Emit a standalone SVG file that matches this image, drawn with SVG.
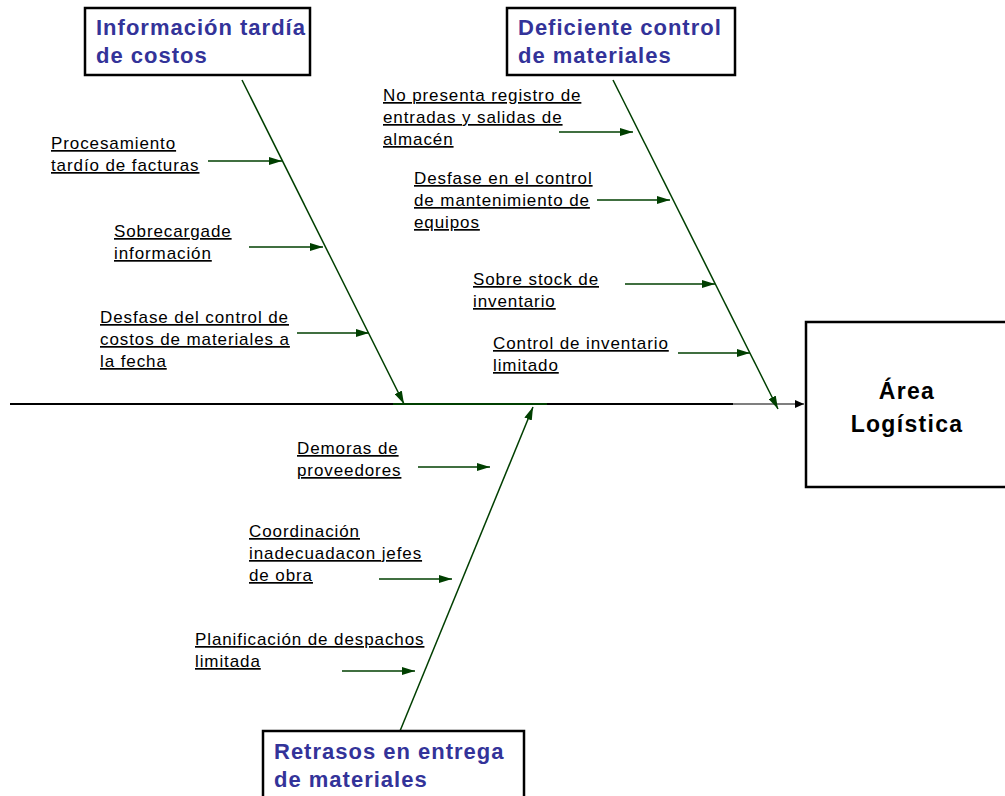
<svg xmlns="http://www.w3.org/2000/svg" width="1005" height="796" viewBox="0 0 1005 796">
<defs>
<marker id="ga" markerUnits="userSpaceOnUse" markerWidth="14" markerHeight="8" refX="13" refY="4" orient="auto">
<path d="M0,0 L13,4 L0,8 Z" fill="#003f00"/>
</marker>
<marker id="ka" markerUnits="userSpaceOnUse" markerWidth="10" markerHeight="8" refX="9" refY="4" orient="auto">
<path d="M0,0 L9,4 L0,8 Z" fill="#000"/>
</marker>
</defs>
<style>
.box{fill:#fff;stroke:#000;stroke-width:2.5}
.title{font-family:"Liberation Sans",Arial,sans-serif;font-weight:bold;font-size:22px;fill:#333399;letter-spacing:1px}
.effect{font-family:"Liberation Sans",Arial,sans-serif;font-weight:bold;font-size:23px;fill:#000;letter-spacing:1.3px}
.lbl{font-family:"Liberation Sans",Arial,sans-serif;font-size:17px;fill:#000;letter-spacing:0.9px;text-decoration:underline}
.bone{stroke:#003f00;stroke-width:1.5;fill:none}
.small{stroke:#003f00;stroke-width:1.5;fill:none}
</style>
<rect width="1005" height="796" fill="#fff"/>

<g id="connectors">
<line x1="10" y1="404" x2="393" y2="404" stroke="#000" stroke-width="2.2"/>
<line x1="393" y1="404" x2="547" y2="404" stroke="#003f00" stroke-width="2.2"/>
<line x1="547" y1="404" x2="733" y2="404" stroke="#000" stroke-width="2.2"/>
<line x1="733" y1="404" x2="804" y2="404" stroke="#000" stroke-width="1.2" marker-end="url(#ka)"/>
<line class="bone" x1="242" y1="80" x2="404" y2="404" marker-end="url(#ga)"/>
<line class="bone" x1="613" y1="80" x2="778" y2="409" marker-end="url(#ga)"/>
<line class="bone" x1="400" y1="731" x2="533" y2="407" marker-end="url(#ga)"/>
<line class="small" x1="208" y1="161" x2="282" y2="161" marker-end="url(#ga)"/>
<line class="small" x1="249" y1="247" x2="323" y2="247" marker-end="url(#ga)"/>
<line class="small" x1="297" y1="333" x2="369" y2="333" marker-end="url(#ga)"/>
<line class="small" x1="559" y1="132" x2="633" y2="132" marker-end="url(#ga)"/>
<line class="small" x1="597" y1="200" x2="670" y2="200" marker-end="url(#ga)"/>
<line class="small" x1="625" y1="284" x2="715" y2="284" marker-end="url(#ga)"/>
<line class="small" x1="678" y1="353" x2="750" y2="353" marker-end="url(#ga)"/>
<line class="small" x1="418" y1="467" x2="490" y2="467" marker-end="url(#ga)"/>
<line class="small" x1="379" y1="579" x2="452" y2="579" marker-end="url(#ga)"/>
<line class="small" x1="342" y1="671" x2="415" y2="671" marker-end="url(#ga)"/>
</g>

<g id="cat-informacion">
<rect class="box" x="85" y="8" width="225" height="67"/>
<text class="title" x="96" y="35">Información tardía</text>
<text class="title" x="96" y="63">de costos</text>
</g>
<g id="cat-deficiente">
<rect class="box" x="507" y="8" width="228" height="67"/>
<text class="title" x="518" y="35">Deficiente control</text>
<text class="title" x="518" y="63">de materiales</text>
</g>
<g id="cat-retrasos">
<rect class="box" x="263" y="731" width="261" height="80"/>
<text class="title" x="274" y="759">Retrasos en entrega</text>
<text class="title" x="274" y="787">de materiales</text>
</g>
<g id="effect">
<rect class="box" x="806" y="322" width="210" height="165"/>
<text class="effect" x="907" y="399" text-anchor="middle">Área</text>
<text class="effect" x="907" y="432" text-anchor="middle">Logística</text>
</g>

<g id="c-procesamiento">
<text class="lbl" x="51" y="149">Procesamiento</text>
<text class="lbl" x="51" y="171">tardío de facturas</text>
</g>
<g id="c-sobrecarga">
<text class="lbl" x="114" y="237">Sobrecargade</text>
<text class="lbl" x="114" y="259">información</text>
</g>
<g id="c-desfase-costos">
<text class="lbl" x="100" y="323">Desfase del control de</text>
<text class="lbl" x="100" y="345">costos de materiales a</text>
<text class="lbl" x="100" y="367">la fecha</text>
</g>
<g id="c-registro">
<text class="lbl" x="383" y="101">No presenta registro de</text>
<text class="lbl" x="383" y="123">entradas y salidas de</text>
<text class="lbl" x="383" y="145">almacén</text>
</g>
<g id="c-mantenimiento">
<text class="lbl" x="414" y="184">Desfase en el control</text>
<text class="lbl" x="414" y="206">de mantenimiento de</text>
<text class="lbl" x="414" y="228">equipos</text>
</g>
<g id="c-stock">
<text class="lbl" x="473" y="285">Sobre stock de</text>
<text class="lbl" x="473" y="307">inventario</text>
</g>
<g id="c-inventario">
<text class="lbl" x="493" y="349">Control de inventario</text>
<text class="lbl" x="493" y="371">limitado</text>
</g>
<g id="c-demoras">
<text class="lbl" x="297" y="454">Demoras de</text>
<text class="lbl" x="297" y="476">proveedores</text>
</g>
<g id="c-coordinacion">
<text class="lbl" x="249" y="537">Coordinación</text>
<text class="lbl" x="249" y="559">inadecuadacon jefes</text>
<text class="lbl" x="249" y="581">de obra</text>
</g>
<g id="c-planificacion">
<text class="lbl" x="195" y="645">Planificación de despachos</text>
<text class="lbl" x="195" y="667">limitada</text>
</g>
</svg>
